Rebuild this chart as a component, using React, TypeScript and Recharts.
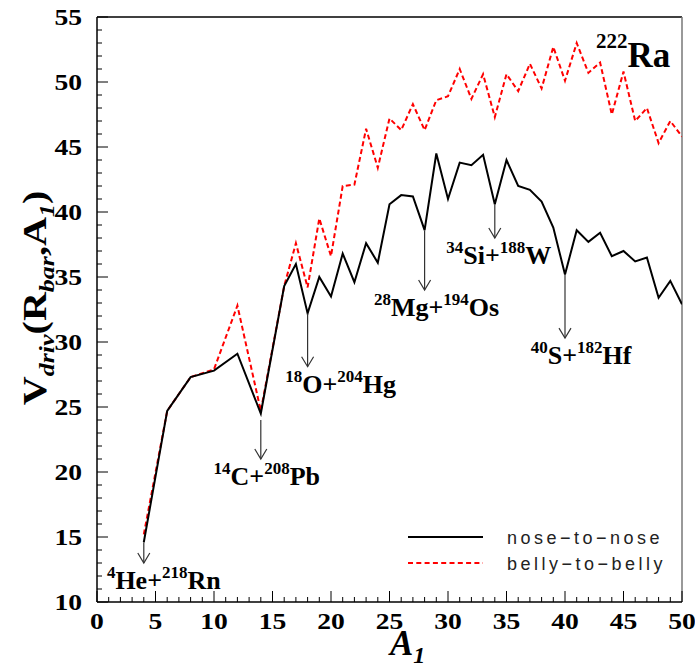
import React from 'react';
import { LineChart, Line, XAxis, YAxis, ReferenceLine, Legend, Customized } from 'recharts';

// mass number of the light fragment
const A1 = [4, 6, 8, 10, 12, 14, 16, 17, 18, 19, 20, 21, 22, 23, 24, 25, 26, 27, 28, 29, 30, 31, 32, 33, 34, 35, 36, 37, 38, 39, 40, 41, 42, 43, 44, 45, 46, 47, 48, 49, 50];

const noseToNose = [14.6, 24.7, 27.3, 27.8, 29.1, 24.5, 34.3, 36.0, 32.2, 35.0, 33.5, 36.8, 34.6, 37.6, 36.1, 40.6, 41.3, 41.2, 38.6, 44.5, 41.0, 43.8, 43.6, 44.4, 40.6, 44.0, 42.0, 41.7, 40.8, 38.8, 35.2, 38.6, 37.7, 38.4, 36.6, 37.0, 36.2, 36.5, 33.4, 34.7, 32.9];

const bellyToBelly = [15.2, 24.7, 27.3, 27.9, 32.8, 24.7, 34.3, 37.6, 34.2, 39.5, 36.6, 42.0, 42.1, 46.4, 43.4, 47.2, 46.3, 48.3, 46.3, 48.6, 48.9, 51.0, 48.7, 50.6, 47.3, 50.6, 49.3, 51.4, 49.5, 52.7, 50.1, 53.0, 50.7, 51.5, 47.5, 50.8, 47.0, 48.0, 45.3, 47.0, 45.8];

const xTicks = Array.from({ length: 51 }, (_, i) => i);
const yTicks = Array.from({ length: 46 }, (_, i) => i + 10);

// arrows marking the decay channels: A1, arrow start, arrow tip, label parts
const channels = [
  { a: 4, from: 14.6, to: 13.0, sup1: '4', el1: 'He', sup2: '218', el2: 'Rn', dx: 20 },
  { a: 14, from: 24.0, to: 21.0, sup1: '14', el1: 'C', sup2: '208', el2: 'Pb', dx: 6 },
  { a: 18, from: 32.2, to: 28.1, sup1: '18', el1: 'O', sup2: '204', el2: 'Hg', dx: 33 },
  { a: 28, from: 38.6, to: 34.0, sup1: '28', el1: 'Mg', sup2: '194', el2: 'Os', dx: 12 },
  { a: 34, from: 40.6, to: 38.0, sup1: '34', el1: 'Si', sup2: '188', el2: 'W', dx: 4 },
  { a: 40, from: 35.2, to: 30.3, sup1: '40', el1: 'S', sup2: '182', el2: 'Hf', dx: 16 },
];

const data = A1.map((a, i) => ({ a, nose: noseToNose[i], belly: bellyToBelly[i] }));

const serif = "'Liberation Serif', 'Times New Roman', serif";

const XTick = (props: any) => {
  const { x, y, payload } = props;
  const v = payload.value;
  const major = v % 5 === 0;
  return (
    <g>
      <line x1={x} y1={y} x2={x} y2={y - (major ? 11 : 5)} stroke="#000" strokeWidth={1} />
      {major && (
        <g transform={`translate(${x},${y + 27}) scale(1.15,1)`}>
          <text x={0} y={0} textAnchor="middle" fontFamily={serif} fontWeight="bold" fontSize={24} fill="#000">
            {v}
          </text>
        </g>
      )}
    </g>
  );
};

const YTick = (props: any) => {
  const { x, y, payload } = props;
  const v = payload.value;
  const major = v % 5 === 0;
  return (
    <g>
      <line x1={x} y1={y} x2={x + (major ? 11 : 5)} y2={y} stroke="#000" strokeWidth={1} />
      {major && (
        <g transform={`translate(${x - 15},${y + 8}) scale(1.15,1)`}>
          <text x={0} y={0} textAnchor="end" fontFamily={serif} fontWeight="bold" fontSize={24} fill="#000">
            {v}
          </text>
        </g>
      )}
    </g>
  );
};

const arrowShape = (ch: any) => (p: any) => {
  const { x1, y1, x2, y2 } = p;
  return (
    <g>
      <line x1={x1} y1={y1} x2={x2} y2={y2} stroke="#333" strokeWidth={1.2} />
      <polyline points={`${x2 - 6},${y2 - 10} ${x2},${y2} ${x2 + 6},${y2 - 10}`} fill="none" stroke="#333" strokeWidth={1.2} />
      <text x={x2 + ch.dx} y={y2 + 26} textAnchor="middle" fontFamily={serif} fontWeight="bold" fontSize={26} fill="#000">
        <tspan fontSize={17} dy={-11}>{ch.sup1}</tspan>
        <tspan dy={11}>{ch.el1}+</tspan>
        <tspan fontSize={17} dy={-11}>{ch.sup2}</tspan>
        <tspan dy={11}>{ch.el2}</tspan>
      </text>
    </g>
  );
};

const Titles = () => (
  <g fontFamily={serif} fontWeight="bold" fill="#000">
    <g transform="translate(46,298) rotate(-90) scale(1.18,1)">
      <text x={0} y={0} textAnchor="middle" fontSize={34}>
        <tspan>V</tspan>
        <tspan fontSize={22} fontStyle="italic" dy={8}>driv</tspan>
        <tspan dy={-8}>(R</tspan>
        <tspan fontSize={22} fontStyle="italic" dy={8}>bar</tspan>
        <tspan dy={-8}>,A</tspan>
        <tspan fontSize={22} fontStyle="italic" dy={8}>1</tspan>
        <tspan dy={-8}>)</tspan>
      </text>
    </g>
    <text x={390} y={655} fontSize={35} fontStyle="italic">
      <tspan>A</tspan>
      <tspan fontSize={24} dy={8}>1</tspan>
    </text>
    <text x={596} y={67} fontSize={35}>
      <tspan fontSize={21} dy={-19}>222</tspan>
      <tspan dy={19}>Ra</tspan>
    </text>
  </g>
);

const LegendBox = () => (
  <svg width={295} height={55}>
    <line x1={8} y1={12} x2={83} y2={12} stroke="#000" strokeWidth={2} />
    <text x={107} y={19} fontFamily="'Liberation Sans', Arial, sans-serif" fontSize={18} letterSpacing={3.5} fill="#222">
      nose−to−nose
    </text>
    <line x1={8} y1={38} x2={83} y2={38} stroke="#ff0000" strokeWidth={2} strokeDasharray="5 3.3" />
    <text x={107} y={45} fontFamily="'Liberation Sans', Arial, sans-serif" fontSize={18} letterSpacing={3.5} fill="#222">
      belly−to−belly
    </text>
  </svg>
);

export default function App() {
  return (
    <div style={{ position: 'absolute', left: 0, top: 0, background: '#fff' }}>
      <LineChart width={695} height={668} data={data} margin={{ top: 17, right: 13, bottom: 0, left: 0 }}>
        <XAxis
          dataKey="a"
          type="number"
          domain={[0, 50]}
          ticks={xTicks}
          interval={0}
          tickSize={0}
          tickMargin={0}
          tickLine={false}
          tick={<XTick />}
          height={66}
          axisLine={{ stroke: '#000', strokeWidth: 1.5 }}
          allowDataOverflow
        />
        <YAxis
          type="number"
          domain={[10, 55]}
          ticks={yTicks}
          interval={0}
          tickSize={0}
          tickMargin={0}
          tickLine={false}
          tick={<YTick />}
          width={97}
          axisLine={{ stroke: '#000', strokeWidth: 1.5 }}
          allowDataOverflow
        />
        <ReferenceLine y={55} stroke="#000" strokeWidth={1.5} />
        <ReferenceLine x={50} stroke="#777" strokeWidth={1.5} />
        <Line
          type="linear"
          dataKey="belly"
          stroke="#ff0000"
          strokeWidth={2}
          strokeDasharray="5 3"
          dot={false}
          isAnimationActive={false}
        />
        <Line
          type="linear"
          dataKey="nose"
          stroke="#000"
          strokeWidth={2}
          dot={false}
          isAnimationActive={false}
        />
        {channels.map((ch) => (
          <ReferenceLine
            key={ch.a}
            segment={[{ x: ch.a, y: ch.from }, { x: ch.a, y: ch.to }]}
            shape={arrowShape(ch)}
          />
        ))}
        <Customized component={<Titles />} />
        <Legend
          layout="horizontal"
          verticalAlign="middle"
          align="center"
          content={<LegendBox />}
          wrapperStyle={{ left: 400, top: 525, width: 295, height: 55 }}
        />
      </LineChart>
    </div>
  );
}
